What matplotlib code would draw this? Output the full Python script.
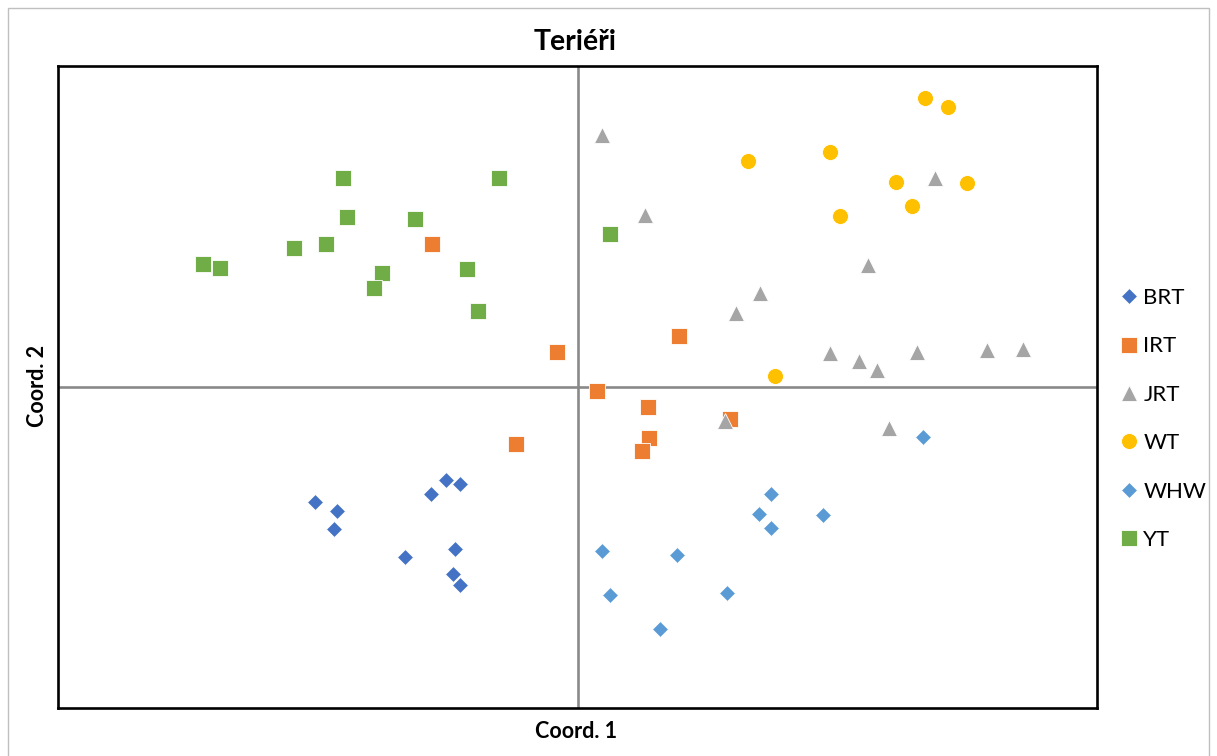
import matplotlib
matplotlib.use("Agg")
import matplotlib.pyplot as plt
from matplotlib.patches import Rectangle

# ---- data (Coord. 1, Coord. 2) ----
series_names = ["BRT", "IRT", "JRT", "WT", "WHW", "YT"]

brt_x = [-0.506, -0.463, -0.469, -0.282, -0.253, -0.227, -0.333, -0.235, -0.239, -0.226]
brt_y = [-0.359, -0.385, -0.442, -0.333, -0.290, -0.301, -0.529, -0.506, -0.582, -0.618]

irt_x = [-0.280, -0.039, 0.195, 0.038, 0.136, 0.293, 0.138, 0.124, -0.119]
irt_y = [0.445, 0.108, 0.159, -0.012, -0.062, -0.101, -0.158, -0.200, -0.179]

jrt_x = [0.047, 0.130, 0.688, 0.560, 0.351, 0.305, 0.486, 0.542, 0.577, 0.654, 0.789, 0.858, 0.284, 0.600]
jrt_y = [0.785, 0.536, 0.652, 0.380, 0.294, 0.230, 0.105, 0.082, 0.053, 0.108, 0.115, 0.118, -0.106, -0.129]

wt_x = [0.669, 0.714, 0.328, 0.486, 0.613, 0.750, 0.643, 0.506, 0.380]
wt_y = [0.899, 0.871, 0.705, 0.731, 0.640, 0.636, 0.564, 0.533, 0.034]

whw_x = [0.666, 0.372, 0.349, 0.473, 0.372, 0.048, 0.192, 0.063, 0.287, 0.159]
whw_y = [-0.157, -0.333, -0.395, -0.399, -0.440, -0.512, -0.523, -0.648, -0.641, -0.753]

yt_x = [-0.451, -0.151, -0.444, -0.312, -0.485, -0.546, -0.720, -0.689, -0.377, -0.392, -0.213, -0.191, 0.063]
yt_y = [0.650, 0.651, 0.531, 0.523, 0.445, 0.432, 0.383, 0.371, 0.354, 0.309, 0.369, 0.238, 0.478]

title = "Teriéři"
x_label = "Coord. 1"
y_label = "Coord. 2"

# ---- styling ----
plt.rcParams['font.family'] = ['Lato', 'DejaVu Sans']

styles = {
    "BRT": dict(marker="D", color="#4472C4", size=8.2),
    "IRT": dict(marker="s", color="#ED7D31", size=11.0),
    "JRT": dict(marker="^", color="#A5A5A5", size=11.5),
    "WT":  dict(marker="o", color="#FFC000", size=11.5),
    "WHW": dict(marker="D", color="#5B9BD5", size=8.2),
    "YT":  dict(marker="s", color="#70AD47", size=11.0),
}
data = {
    "BRT": (brt_x, brt_y),
    "IRT": (irt_x, irt_y),
    "JRT": (jrt_x, jrt_y),
    "WT": (wt_x, wt_y),
    "WHW": (whw_x, whw_y),
    "YT": (yt_x, yt_y),
}

W, H = 1217, 756
fig = plt.figure(figsize=(W / 100, H / 100), dpi=100)

# outer chart border
fig.patches.append(Rectangle((8 / W, -0.01), (1209 - 8) / W, 1 - 8 / H + 0.01,
                             transform=fig.transFigure, fill=False,
                             edgecolor="#BFBFBF", linewidth=1.0))

left, right, top, bottom = 58, 1097, 66, 708
ax = fig.add_axes([left / W, (H - bottom) / H, (right - left) / W, (bottom - top) / H])

ax.set_xlim(-1, 1)
ax.set_ylim(-1, 1)

ax.axhline(0, color="#898989", linewidth=1.9, zorder=1)
ax.axvline(0, color="#898989", linewidth=1.9, zorder=1)

for name in series_names:
    st = styles[name]
    xs, ys = data[name]
    ax.plot(xs, ys, linestyle="none", marker=st["marker"], color=st["color"],
            markersize=st["size"], markeredgecolor="white", markeredgewidth=0.6,
            label=name, zorder=3)

ax.set_xticks([])
ax.set_yticks([])
for sp in ax.spines.values():
    sp.set_color("black")
    sp.set_linewidth(1.9)

fig.text(575 / W, 1 - 42 / H, title, ha="center", va="center",
         fontsize=20.5, fontweight="bold", color="black")
fig.text(576 / W, 1 - 731 / H, x_label, ha="center", va="center",
         fontsize=15.5, fontweight="bold", color="black")
fig.text(38 / W, 1 - 386 / H, y_label, ha="center", va="center", rotation=90,
         fontsize=15.5, fontweight="bold", color="black")

leg = fig.legend(loc="center left", bbox_to_anchor=(1110 / W, 1 - 419 / H),
                 frameon=False, fontsize=16, labelspacing=1.28,
                 handletextpad=0.2, handlelength=0.9, borderaxespad=0)

fig.savefig("out.png", dpi=100)
